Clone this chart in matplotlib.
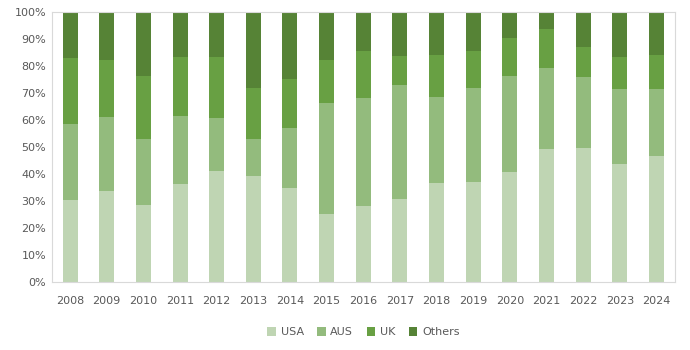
import numpy as np
import matplotlib
matplotlib.use("Agg")
import matplotlib.pyplot as plt
from matplotlib.ticker import PercentFormatter

# values (share in %)
years = [str(y) for y in range(2008, 2025)]
usa = [30.4, 33.7, 28.5, 36.3, 41.1, 39.3, 34.8, 25.2, 28.1, 30.7, 36.7, 37.0, 40.7, 49.3, 49.6, 43.7, 46.7]
aus = [28.1, 27.4, 24.5, 25.2, 19.6, 13.7, 22.2, 41.1, 40.0, 42.3, 31.8, 34.9, 35.6, 30.0, 26.3, 27.8, 24.8]
uk = [24.5, 21.1, 23.3, 21.8, 22.6, 18.9, 18.2, 15.9, 17.5, 10.7, 15.6, 13.7, 14.1, 14.4, 11.1, 11.8, 12.6]
others = [17.0, 17.8, 23.7, 16.7, 16.7, 28.1, 24.8, 17.8, 14.4, 16.3, 15.9, 14.4, 9.6, 6.3, 13.0, 16.7, 15.9]

names = ["USA", "AUS", "UK", "Others"]
colors = ["#BFD5B3", "#93BB7D", "#68A043", "#568336"]

fig = plt.figure(figsize=(6.9, 3.5), dpi=100)
ax = fig.add_axes([0.075, 0.194, 0.903, 0.772])

x = np.arange(len(years))
bottom = np.zeros(len(years))
for name, vals, c in zip(names, [usa, aus, uk, others], colors):
    vals = np.array(vals)
    ax.bar(x, vals, 0.41, bottom=bottom, color=c, label=name)
    bottom += vals

ax.set_ylim(0, 100)
ax.set_xlim(-0.5, len(years) - 0.5)
ax.set_yticks(np.arange(0, 101, 10))
ax.yaxis.set_major_formatter(PercentFormatter(decimals=0))
ax.set_xticks(x)
ax.set_xticklabels(years)

for s in ax.spines.values():
    s.set_color("#D9D9D9")
    s.set_linewidth(0.8)
ax.tick_params(length=0, labelsize=8, colors="#595959")
ax.tick_params(axis="x", pad=10)
ax.tick_params(axis="y", pad=4)

ax.legend(loc="upper center", bbox_to_anchor=(0.5, -0.13), ncol=4, frameon=False,
          fontsize=8, labelcolor="#595959", handlelength=0.8, handleheight=0.8,
          handletextpad=0.4, columnspacing=1.2)

fig.savefig("out.png", dpi=100)
